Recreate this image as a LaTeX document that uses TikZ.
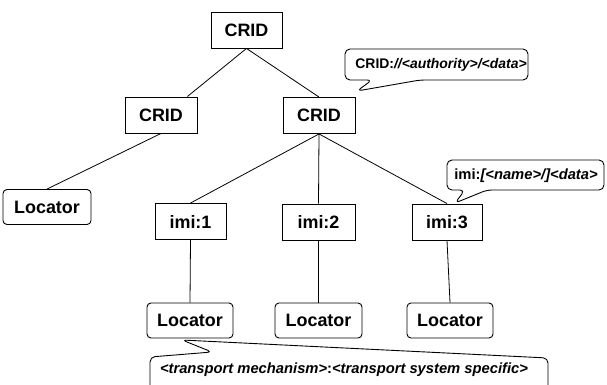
\documentclass[tikz,border=0pt]{standalone}
\usepackage{fontspec}
\setmainfont{Liberation Sans}
\begin{document}
\begin{tikzpicture}[x=1bp,y=-1bp,
  every node/.style={inner sep=0pt},
  label/.style={font=\bfseries\fontsize{18}{20}\selectfont},
  idbox/.style={label, draw, line width=0.9pt, minimum width=71bp, minimum height=36bp},
  locbox/.style={label, draw, line width=0.9pt, rounded corners=4bp, minimum width=87bp, minimum height=35bp},
  link/.style={line width=0.8pt},
  callout/.style={draw, line width=0.9pt, rounded corners=5bp},
  calltext/.style={font=\bfseries\fontsize{14.8}{17}\selectfont}]
\useasboundingbox (0,0) rectangle (607,384);

% identifier tree
\node[idbox] (crid0) at (246.5,30) {CRID};
\node[idbox, minimum width=72bp] (crid1) at (161,115) {CRID};
\node[idbox, minimum width=72bp] (crid2) at (319,115.5) {CRID};
\node[locbox, minimum width=88bp] (loc0) at (47,207) {Locator};
\node[idbox] (imi1) at (190.5,221.5) {imi:1};
\node[idbox, minimum width=73bp] (imi2) at (318.5,222) {imi:2};
\node[idbox, minimum width=70bp] (imi3) at (447,222) {imi:3};
\node[locbox, minimum width=86bp] (loc1) at (190,320.5) {Locator};
\node[locbox] (loc2) at (318.5,320.5) {Locator};
\node[locbox, minimum width=86bp] (loc3) at (450,320.5) {Locator};

\draw[link] (crid0.south) -- (crid1.35);
\draw[link] (crid0.south) -- (crid2.north);
\draw[link] (crid1.south) -- (loc0.north);
\draw[link] (crid2.south) -- (imi1.north);
\draw[link] (crid2.south) -- (imi2.north);
\draw[link] (crid2.south) -- (imi3.north);
\draw[link] (imi1.south) -- (loc1.north);
\draw[link] (imi2.south) -- (loc2.north);
\draw[link] (imi3.south) -- (loc3.north);

% syntax callouts
\draw[callout] (372,80) -- (357,91) -- (420,80) -- (528,80) -- (528,49) -- (345,49) -- (345,80) -- cycle;
\node[calltext, font=\bfseries\fontsize{14}{17}\selectfont] (c1) at (441,64.5) {CRID:\textit{//<authority>/<data>}};

\draw[callout] (465,190) -- (455,203) -- (487,190) -- (604,190) -- (604,160) -- (447,160) -- (447,190) -- cycle;
\node[calltext] (c2) at (526,175.5) {imi:\textit{[<name>/]<data>}};

\draw[callout] (150,386) -- (150,357) -- (212,352) -- (182,340) -- (548,358) -- (548,386);
\node[calltext] (c3) at (344,370) {\textit{<transport mechanism>}:\textit{<transport system specific>}};
\end{tikzpicture}
\end{document}
